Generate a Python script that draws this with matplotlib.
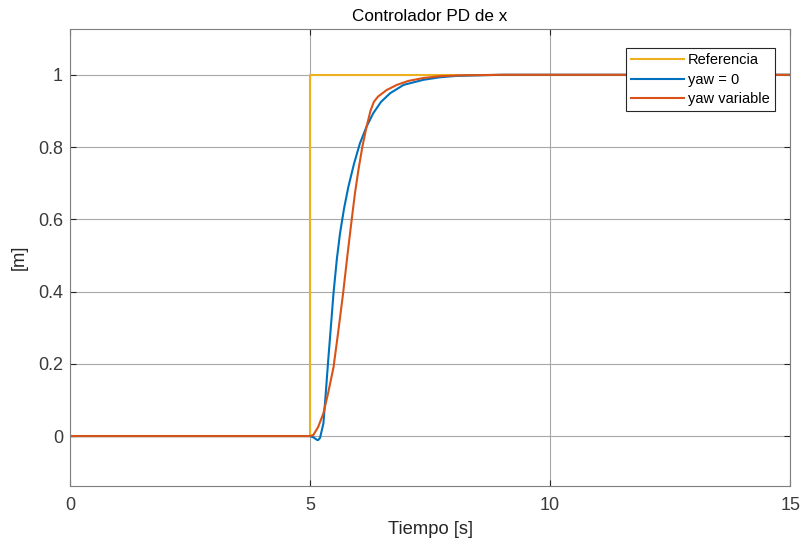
import matplotlib.pyplot as plt

plt.rcParams['font.family'] = ['Liberation Sans', 'DejaVu Sans']

# datos
t_ref = [0, 5, 5, 15]
x_ref = [0, 0, 1, 1]

t_yaw0 = [0, 5.0, 5.08, 5.14, 5.17, 5.21, 5.28, 5.33, 5.38, 5.44, 5.49, 5.56, 5.625, 5.71,
          5.80, 5.92, 6.04, 6.18, 6.32, 6.48, 6.67, 6.95, 7.36, 7.7, 8.06, 9.0, 15]
x_yaw0 = [0, 0, -0.004, -0.010, -0.011, -0.005, 0.035, 0.12, 0.21, 0.31, 0.395, 0.49, 0.56, 0.63,
          0.69, 0.755, 0.81, 0.857, 0.894, 0.925, 0.949, 0.972, 0.986, 0.993, 0.997, 1.0, 1.0]

t_yawv = [0, 5.0, 5.07, 5.17, 5.28, 5.38, 5.49, 5.59, 5.69, 5.78, 5.87, 5.94, 6.01, 6.09,
          6.18, 6.26, 6.33, 6.42, 6.6, 6.81, 7.05, 7.36, 7.7, 8.06, 9.0, 15]
x_yawv = [0, 0, 0.003, 0.025, 0.063, 0.12, 0.19, 0.29, 0.395, 0.50, 0.60, 0.675, 0.737, 0.80,
          0.857, 0.90, 0.925, 0.94, 0.958, 0.972, 0.983, 0.991, 0.996, 0.998, 1.0, 1.0]

fig, ax = plt.subplots(figsize=(8.03, 5.45), dpi=100)
fig.subplots_adjust(left=0.087, right=0.984, top=0.947, bottom=0.108)

ax.plot(t_ref, x_ref, color='#EDB120', lw=1.5, label='Referencia')
ax.plot(t_yaw0, x_yaw0, color='#0072BD', lw=1.5, label='yaw = 0')
ax.plot(t_yawv, x_yawv, color='#D95319', lw=1.5, label='yaw variable')

ax.set_xlim(0, 15)
ax.set_ylim(-0.1385, 1.127)
ax.set_xticks([0, 5, 10, 15])
ax.set_yticks([0, 0.2, 0.4, 0.6, 0.8, 1])
ax.set_yticklabels(['0', '0.2', '0.4', '0.6', '0.8', '1'])
ax.grid(True, color='#a8a8a8', lw=0.8)
ax.set_axisbelow(True)
ax.tick_params(direction='in', length=4, colors='#262626', labelsize=13,
               top=True, right=True, labelcolor='#3a3a3a')
ax.tick_params(axis='x', pad=8)
ax.tick_params(axis='y', pad=5)
for s in ax.spines.values():
    s.set_color('#7f7f7f')
    s.set_linewidth(0.8)

ax.set_title('Controlador PD de x', fontsize=12.3, color='#000000', pad=6)
ax.set_xlabel('Tiempo [s]', fontsize=13.2, color='#262626', labelpad=5)
ax.set_ylabel('[m]', fontsize=13.2, color='#262626', labelpad=7)

leg = ax.legend(loc='upper right', bbox_to_anchor=(0.979, 0.958), fontsize=10.5,
                fancybox=False, framealpha=1, edgecolor='#262626',
                handlelength=3.6, borderpad=0.35, labelspacing=0.38, handletextpad=0.3,
                borderaxespad=0)
leg.get_frame().set_linewidth(0.8)

plt.savefig('out.png')
